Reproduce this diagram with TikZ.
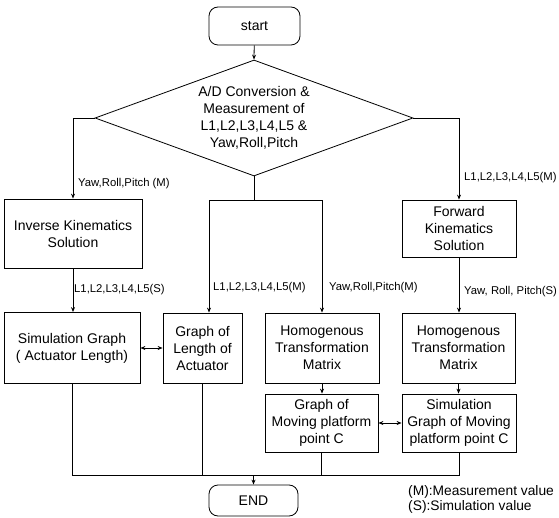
\documentclass[tikz,border=0pt]{standalone}
\usepackage{fontspec}
\setmainfont{Liberation Sans}
\usetikzlibrary{shapes.geometric,arrows.meta}
\begin{document}
\begin{tikzpicture}[x=1pt,y=-1pt,
  box/.style={draw, line width=0.8pt, align=center, inner sep=0pt, font=\fontsize{14}{17}\selectfont},
  term/.style={box, rounded corners=9pt},
  lbl/.style={inner sep=0pt, anchor=west, font=\fontsize{11.3}{13}\selectfont},
  leg/.style={inner sep=0pt, anchor=west, font=\fontsize{13.8}{15}\selectfont},
  conn/.style={line width=0.8pt},
  arr/.style={conn, -{Stealth[length=5pt,width=4pt]}},
  darr/.style={conn, {Stealth[length=5pt,width=4pt]}-{Stealth[length=5pt,width=4pt]}}]
\useasboundingbox (0,0) rectangle (559,518);

\node[term, minimum width=91pt, minimum height=38pt] (start) at (254.5,26) {start};
\node[box, diamond, aspect=2.74, minimum width=318pt, minimum height=116pt] (dec) at (254,118)
  {A/D Conversion \&\\Measurement of\\L1,L2,L3,L4,L5 \&\\Yaw,Roll,Pitch};
\node[box, minimum width=138pt, minimum height=69pt] (inv) at (73,233.5) {Inverse Kinematics\\Solution};
\node[box, minimum width=136pt, minimum height=71pt] (sim) at (72,348) {Simulation Graph\\( Actuator Length)};
\node[box, minimum width=79pt, minimum height=70pt] (gol) at (202.5,348) {Graph of\\Length of\\Actuator};
\node[box, minimum width=114pt, minimum height=70pt] (hom1) at (322,348) {Homogenous\\Transformation\\Matrix};
\node[box, minimum width=113pt, minimum height=58pt] (gmp) at (321.5,423) {Graph of\\Moving platform\\point C};
\node[box, minimum width=114pt, minimum height=57pt] (fwd) at (459,228.5) {Forward\\Kinematics\\Solution};
\node[box, minimum width=113pt, minimum height=70pt] (hom2) at (458.5,348) {Homogenous\\Transformation\\Matrix};
\node[box, minimum width=114pt, minimum height=58pt] (sgm) at (459,423) {Simulation\\Graph of Moving\\platform point C};
\node[term, minimum width=89pt, minimum height=31pt] (end) at (253.5,500.5) {END};

\node[lbl] (l1) at (78,184) {Yaw,Roll,Pitch (M)};
\node[lbl] (l2) at (74,290) {L1,L2,L3,L4,L5(S)};
\node[lbl] (l3) at (213,288) {L1,L2,L3,L4,L5(M)};
\node[lbl] (l4) at (329,288) {Yaw,Roll,Pitch(M)};
\node[lbl] (l5) at (464,178) {L1,L2,L3,L4,L5(M)};
\node[lbl] (l6) at (464,292) {Yaw, Roll, Pitch(S)};
\node[leg] (lm) at (408,492) {(M):Measurement value};
\node[leg] (ls) at (408,507) {(S):Simulation value};

\coordinate (jl) at (73,118);
\coordinate (jr) at (459,118);
\coordinate (jm) at (254,200);
\coordinate (jm1) at (209,200);
\coordinate (jm2) at (322,200);
\coordinate (bl) at (72,475);
\coordinate (br) at (459,475);

\draw[arr] (start) -- (dec.north);
\draw[arr] (dec.west) -- (jl) -- (inv.north);
\draw[arr] (dec.east) -- (jr) -- (fwd.north);
\draw[conn] (dec.south) -- (jm);
\draw[arr] (jm) -- (jm1) -- (jm1 |- gol.north);
\draw[arr] (jm) -- (jm2) -- (hom1.north);
\draw[arr] (inv.south) -- (inv.south |- sim.north);
\draw[darr] (sim.east) -- (gol.west);
\draw[arr] (fwd.south) -- (fwd.south |- hom2.north);
\draw[arr] (hom1.south) -- (hom1.south |- gmp.north);
\draw[arr] (hom2.south) -- (hom2.south |- sgm.north);
\draw[darr] (gmp.east) -- (sgm.west);
\draw[conn] (sim.south) -- (bl) -- (br) -- (sgm.south);
\draw[conn] (gol.south) -- (gol.south |- bl);
\draw[conn] (gmp.south) -- (gmp.south |- bl);
\draw[arr] (end.north |- bl) -- (end.north);
\end{tikzpicture}
\end{document}
